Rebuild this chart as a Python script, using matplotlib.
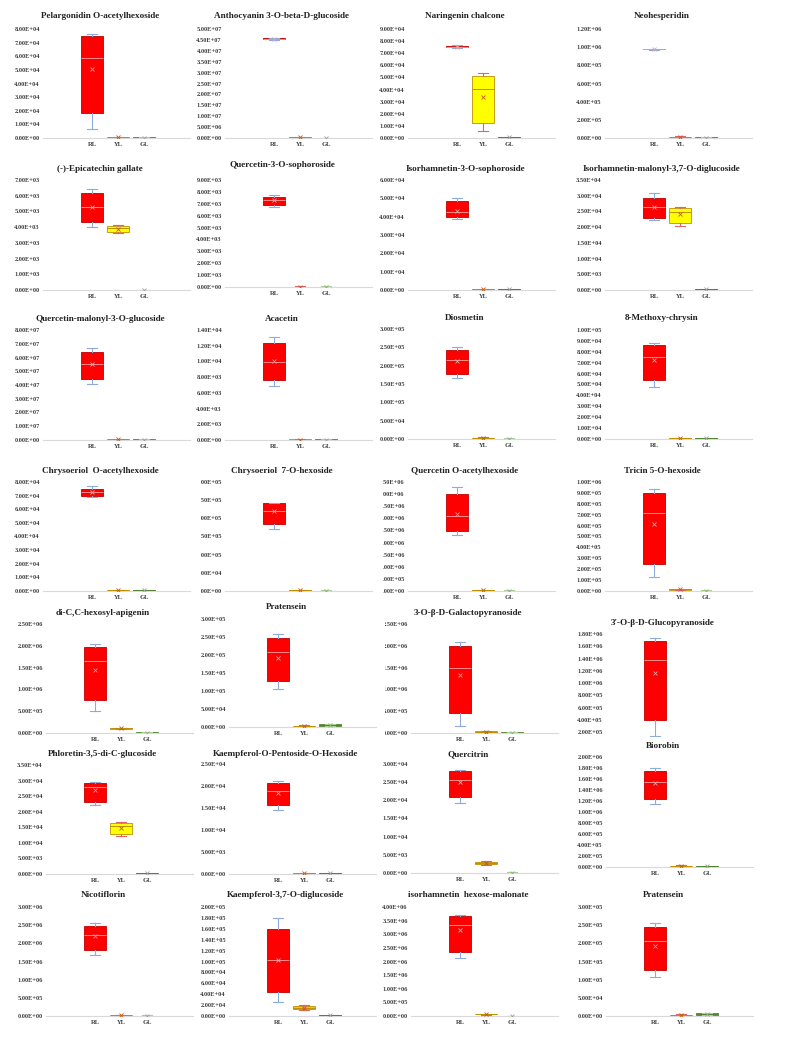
import numpy as np
import matplotlib.pyplot as plt
from matplotlib.transforms import Bbox

# === datos ===
titles = [
    "Pelargonidin O-acetylhexoside", "Anthocyanin 3-O-beta-D-glucoside", "Naringenin chalcone", "Neohesperidin",
    "(-)-Epicatechin gallate", "Quercetin-3-O-sophoroside", "Isorhamnetin-3-O-sophoroside",
    "Isorhamnetin-malonyl-3,7-O-diglucoside",
    "Quercetin-malonyl-3-O-glucoside", "Acacetin", "Diosmetin", "8-Methoxy-chrysin",
    "Chrysoeriol  O-acetylhexoside", "Chrysoeriol  7-O-hexoside", "Quercetin O-acetylhexoside", "Tricin 5-O-hexoside",
    "di-C,C-hexosyl-apigenin", "Pratensein", "3-O-\u03b2-D-Galactopyranoside", "3'-O-\u03b2-D-Glucopyranoside",
    "Phloretin-3,5-di-C-glucoside", "Kaempferol-O-Pentoside-O-Hexoside", "Quercitrin", "Biorobin",
    "Nicotiflorin", "Kaempferol-3,7-O-diglucoside", "isorhamnetin  hexose-malonate", "Pratensein",
]
groups = ["RL", "YL", "GL"]

y_max = [8e4, 5e7, 9e4, 1.2e6,
         7e3, 9e3, 6e4, 3.5e4,
         8e7, 1.4e4, 3e5, 1e5,
         8e4, 3e5, 4.5e6, 1e6,
         2.5e6, 3e5, 2.5e6, 1.8e6,
         3.5e4, 2.5e4, 3e4, 2e6,
         3e6, 2e5, 4e6, 3e5]
y_step = [1e4, 5e6, 1e4, 2e5,
          1e3, 1e3, 1e4, 5e3,
          1e7, 2e3, 5e4, 1e4,
          1e4, 5e4, 5e5, 1e5,
          5e5, 5e4, 5e5, 2e5,
          5e3, 5e3, 5e3, 2e5,
          5e5, 2e4, 5e5, 5e4]
y_min = [0] * 28
y_min[19] = 1.2e5
y_first = [0] * 28
y_first[19] = 2e5

# (bigote inf, Q1, mediana, Q3, bigote sup, media)
rl_stats = [
    (6.9e3, 1.8e4, 5.9e4, 7.45e4, 7.65e4, 5.05e4),
    (4.50e7, 4.53e7, 4.55e7, 4.57e7, 4.60e7, 4.55e7),
    (7.45e4, 7.5e4, 7.55e4, 7.6e4, 7.65e4, 7.55e4),
    (9.72e5, 9.75e5, 9.78e5, 9.81e5, 9.84e5, 9.78e5),
    (4.0e3, 4.35e3, 5.3e3, 6.15e3, 6.4e3, 5.3e3),
    (6.73e3, 6.87e3, 7.28e3, 7.55e3, 7.75e3, 7.28e3),
    (3.9e4, 4.0e4, 4.27e4, 4.87e4, 5.0e4, 4.33e4),
    (2.23e4, 2.3e4, 2.65e4, 2.94e4, 3.08e4, 2.63e4),
    (4.05e7, 4.41e7, 5.53e7, 6.42e7, 6.72e7, 5.5e7),
    (6.9e3, 7.65e3, 9.95e3, 1.23e4, 1.31e4, 1.0e4),
    (1.66e5, 1.78e5, 2.16e5, 2.42e5, 2.51e5, 2.14e5),
    (4.76e4, 5.37e4, 7.56e4, 8.63e4, 8.84e4, 7.26e4),
    (6.9e4, 6.95e4, 7.27e4, 7.51e4, 7.68e4, 7.27e4),
    (1.71e5, 1.85e5, 2.19e5, 2.42e5, 2.43e5, 2.2e5),
    (2.31e6, 2.49e6, 3.1e6, 4.0e6, 4.29e6, 3.19e6),
    (1.3e5, 2.52e5, 7.2e5, 8.98e5, 9.35e5, 6.15e5),
    (5.1e5, 7.5e5, 1.64e6, 1.97e6, 2.04e6, 1.45e6),
    (1.06e5, 1.27e5, 2.07e5, 2.46e5, 2.57e5, 1.93e5),
    (1.5e5, 4.6e5, 1.5e6, 1.99e6, 2.08e6, 1.33e6),
    (1.34e5, 3.9e5, 1.37e6, 1.68e6, 1.73e6, 1.16e6),
    (2.22e4, 2.32e4, 2.8e4, 2.93e4, 2.97e4, 2.7e4),
    (1.46e4, 1.56e4, 1.88e4, 2.07e4, 2.12e4, 1.83e4),
    (1.92e4, 2.08e4, 2.55e4, 2.8e4, 2.83e4, 2.5e4),
    (1.15e6, 1.24e6, 1.55e6, 1.74e6, 1.8e6, 1.53e6),
    (1.69e6, 1.81e6, 2.24e6, 2.48e6, 2.56e6, 2.2e6),
    (2.6e4, 4.45e4, 1.02e5, 1.59e5, 1.79e5, 1.02e5),
    (2.13e6, 2.35e6, 3.35e6, 3.67e6, 3.72e6, 3.15e6),
    (1.06e5, 1.26e5, 2.06e5, 2.45e5, 2.55e5, 1.92e5),
]
yl_stats = [
    (200, 400, 600, 800, 1000, 600),
    (1e5, 2e5, 3e5, 4e5, 5e5, 3e5),
    (5.5e3, 1.27e4, 4.02e4, 5.12e4, 5.35e4, 3.4e4),
    (5e3, 8e3, 1.1e4, 1.4e4, 1.8e4, 1.1e4),
    (3.61e3, 3.67e3, 3.93e3, 4.08e3, 4.14e3, 3.9e3),
    (10, 20, 30, 40, 60, 30),
    (100, 200, 300, 400, 500, 300),
    (2.05e4, 2.14e4, 2.47e4, 2.6e4, 2.63e4, 2.42e4),
    (2e5, 4e5, 5e5, 6e5, 8e5, 5e5),
    (20, 40, 60, 80, 100, 60),
    (1e3, 2e3, 3e3, 4e3, 5e3, 3e3),
    (200, 400, 600, 800, 1000, 600),
    (200, 400, 600, 800, 1000, 600),
    (500, 1e3, 1.5e3, 2e3, 2.5e3, 1.5e3),
    (1e4, 2e4, 3e4, 4e4, 5e4, 3e4),
    (8e3, 1.2e4, 1.5e4, 1.8e4, 2.2e4, 1.5e4),
    (9.5e4, 1.02e5, 1.1e5, 1.15e5, 1.25e5, 1.1e5),
    (1e3, 2e3, 3e3, 4e3, 5e3, 3e3),
    (1e4, 2e4, 3e4, 4e4, 5e4, 3e4),
    (1e4, 2e4, 3e4, 4e4, 5e4, 3e4),
    (1.23e4, 1.3e4, 1.54e4, 1.65e4, 1.68e4, 1.47e4),
    (50, 100, 150, 200, 250, 150),
    (2.3e3, 2.5e3, 2.7e3, 3.0e3, 3.2e3, 2.75e3),
    (1.2e4, 1.6e4, 2e4, 2.4e4, 2.8e4, 2e4),
    (2e4, 2.5e4, 3e4, 3.5e4, 4e4, 3e4),
    (1.1e4, 1.2e4, 1.55e4, 1.9e4, 2.0e4, 1.55e4),
    (5e4, 6e4, 7e4, 8e4, 9e4, 7e4),
    (1e3, 2e3, 3e3, 4e3, 5e3, 3e3),
]
gl_stats = [
    (100, 200, 300, 400, 500, 300),
    (5e4, 8e4, 1e5, 1.2e5, 1.5e5, 1e5),
    (200, 300, 500, 700, 900, 500),
    (2e3, 3e3, 5e3, 7e3, 9e3, 5e3),
    (10, 15, 20, 25, 30, 20),
    (10, 20, 30, 40, 60, 30),
    (100, 200, 300, 400, 500, 300),
    (100, 150, 200, 250, 300, 200),
    (1e5, 2e5, 3e5, 4e5, 5e5, 3e5),
    (20, 40, 60, 80, 100, 60),
    (500, 800, 1e3, 1.2e3, 1.5e3, 1e3),
    (200, 400, 600, 800, 1000, 600),
    (200, 300, 400, 500, 600, 400),
    (500, 800, 1e3, 1.2e3, 1.5e3, 1e3),
    (5e3, 1e4, 1.5e4, 2e4, 2.5e4, 1.5e4),
    (1e3, 2e3, 3e3, 4e3, 5e3, 3e3),
    (5e3, 8e3, 1e4, 1.2e4, 1.5e4, 1e4),
    (2.5e3, 3e3, 5.5e3, 8e3, 8.5e3, 5.5e3),
    (5e3, 8e3, 1e4, 1.2e4, 1.5e4, 1e4),
    (5e3, 8e3, 1e4, 1.2e4, 1.5e4, 1e4),
    (100, 150, 200, 250, 300, 200),
    (50, 100, 150, 200, 250, 150),
    (50, 80, 100, 120, 150, 100),
    (5e3, 8e3, 1e4, 1.2e4, 1.5e4, 1e4),
    (5e3, 8e3, 1e4, 1.2e4, 1.5e4, 1e4),
    (500, 800, 1e3, 1.2e3, 1.5e3, 1e3),
    (5e3, 8e3, 1e4, 1.2e4, 1.5e4, 1e4),
    (2.5e3, 3e3, 5.5e3, 8e3, 8.5e3, 5.5e3),
]

# === posiciones (pixeles de la imagen) ===
W, H = 786, 1040
CAT = 26  # pixeles entre categorias
rl_x_top = [92, 274, 457, 654]   # filas 1-4
rl_x_bot = [95, 278, 460, 655]   # filas 5-7
ax_top = [29, 29, 29, 29, 180, 180, 180, 180, 330, 330, 329, 330, 482, 482, 482, 482,
          624, 619, 624, 634, 765, 764, 764, 757, 907, 907, 907, 907]
ax_bot = [138, 138, 138, 138, 290, 287, 290, 290, 440, 440, 439, 439, 591, 591, 591, 591,
          733, 727, 733, 737, 874, 874, 873, 867, 1016, 1016, 1016, 1016]
title_y = [16, 16, 16, 16, 169, 165, 169, 169, 319, 319, 318, 318, 471, 471, 471, 471,
           613, 607, 613, 623, 754, 754, 754, 746, 895, 895, 895, 895]
clip_left = {13: 200.5, 14: 383, 18: 385}
clip_bottom = {13: 595}
no_xaxis = {19}

# === estilos ===
styles = {
    "RL": dict(face="#FF0000", edge="#C00000", whisk="#8FAADC", med="#FF8C8C", mean="#E8A0A0"),
    "YL": dict(face="#FFFF00", edge="#BF9000", whisk="#E06666", med="#BF9000", mean="#C55A11"),
    "GL": dict(face="#70AD47", edge="#548235", whisk="#A9D18E", med="#548235", mean="#A0A0A0"),
}
yl_face = {22: "#F2A040", 25: "#FFC000"}

serif = "Liberation Serif"
fig = plt.figure(figsize=(W / 100, H / 100), dpi=100)


def px_box(x0, y_top_px, x1, y_bot_px):
    # caja en coordenadas de pantalla (origen abajo)
    return Bbox.from_extents(x0, H - y_bot_px, x1, H - y_top_px)


for i in range(28):
    r, c = divmod(i, 4)
    x_rl = (rl_x_top if r < 4 else rl_x_bot)[c]
    left = x_rl - 1.9 * CAT
    width = 5.65 * CAT
    top, bot = ax_top[i], ax_bot[i]
    ax = fig.add_axes([left / W, 1 - bot / H, width / W, (bot - top) / H])
    ax.patch.set_visible(False)
    ax.set_xlim(-0.9, 4.75)
    ax.set_ylim(y_min[i], y_max[i])
    for s in ax.spines.values():
        s.set_visible(False)

    for k, (g, st) in enumerate(zip(groups, [rl_stats[i], yl_stats[i], gl_stats[i]])):
        sty = styles[g]
        face = yl_face.get(i, sty["face"]) if g == "YL" else sty["face"]
        lo, q1, med, q3, hi, mean = st
        ax.bxp([dict(whislo=lo, q1=q1, med=med, q3=q3, whishi=hi, mean=mean)],
               positions=[k + 1], widths=0.85, capwidths=[0.35],
               patch_artist=True, showmeans=True, showfliers=False, manage_ticks=False,
               boxprops=dict(facecolor=face, edgecolor=sty["edge"], linewidth=0.6),
               whiskerprops=dict(color=sty["whisk"], linewidth=0.8),
               capprops=dict(color=sty["whisk"], linewidth=0.8),
               medianprops=dict(color=sty["med"], linewidth=0.7),
               meanprops=dict(marker="x", markeredgecolor=sty["mean"], markersize=3.5,
                              markeredgewidth=0.6))

    ticks = np.arange(y_first[i], y_max[i] + y_step[i] / 2, y_step[i])
    ax.set_yticks(ticks)
    ax.set_yticklabels([f"{v:.2E}" for v in ticks], fontsize=4.6, fontweight="bold",
                       family=serif, color="#404040")
    ax.tick_params(axis="y", length=0, pad=2)

    if i in no_xaxis:
        ax.set_xticks([])
    else:
        ax.axhline(0, color="#D9D9D9", linewidth=0.8, clip_on=False, zorder=0)
        ax.set_xticks([1, 2, 3])
        ax.set_xticklabels(groups, fontsize=4.8, fontweight="bold", family=serif, color="#404040")
        ax.tick_params(axis="x", length=0, pad=3)

    if i in clip_left:
        bb = px_box(clip_left[i], 0, W, H)
        for t in ax.get_yticklabels():
            t.set_clip_box(bb)
            t.set_clip_on(True)
    if i in clip_bottom:
        bb = px_box(0, 0, W, clip_bottom[i])
        for t in ax.get_xticklabels():
            t.set_clip_box(bb)
            t.set_clip_on(True)

    fig.text((x_rl + 8) / W, 1 - title_y[i] / H, titles[i], ha="center", va="center",
             fontsize=6.6, fontweight="bold", family=serif, color="#222222")

fig.savefig("out.png", dpi=100, facecolor="white")
